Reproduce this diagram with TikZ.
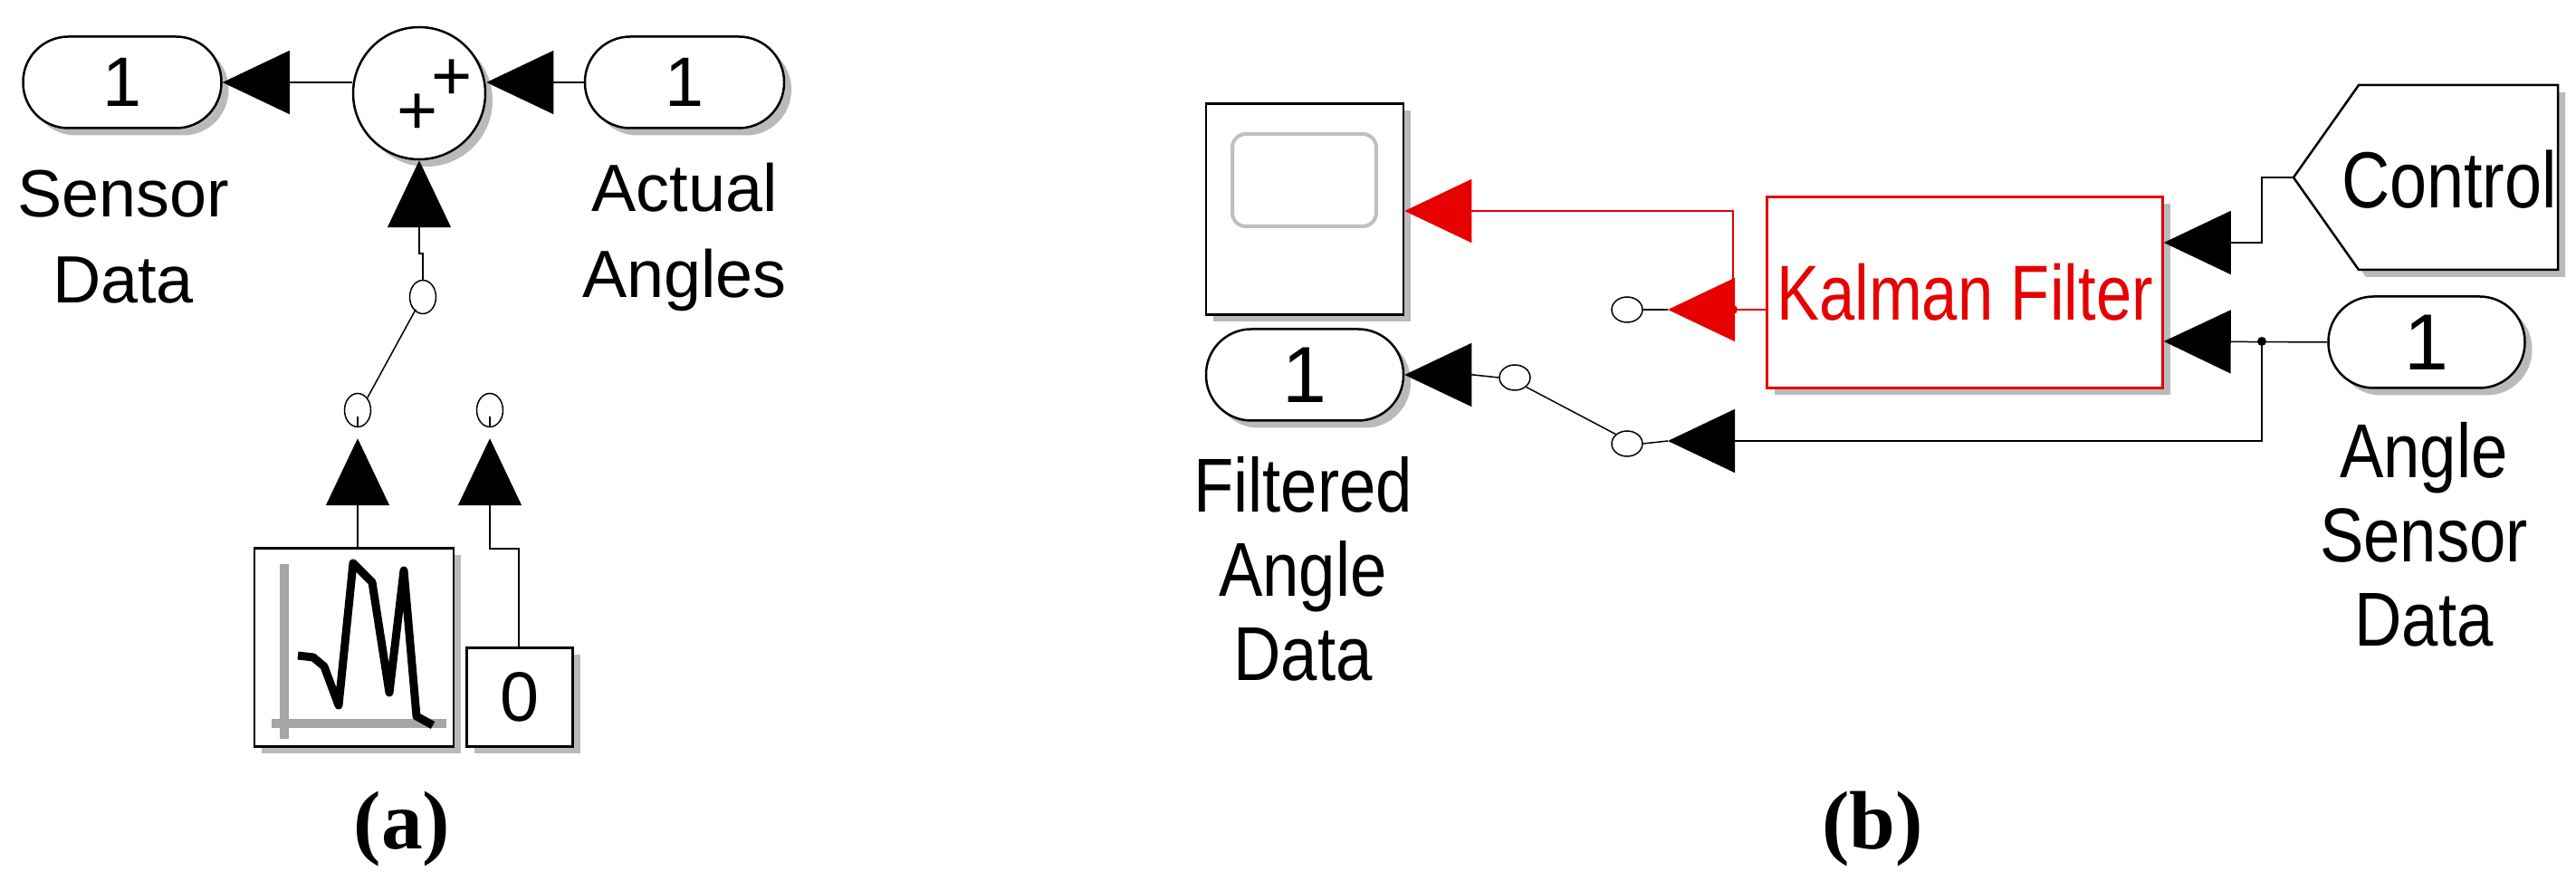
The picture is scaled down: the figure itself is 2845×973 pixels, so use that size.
\documentclass[tikz,border=0pt]{standalone}
\usepackage{fontspec}
\setmainfont{Liberation Sans}
\newfontfamily\capfont{Liberation Serif}
\usetikzlibrary{arrows.meta,shadows,shapes.geometric}
\definecolor{kred}{RGB}{230,0,0}
\begin{document}
\begin{tikzpicture}[x=0.1mm,y=-0.1mm,
  lw/.style={line width=0.25mm},
  shd/.style={drop shadow={shadow xshift=0.8mm,shadow yshift=-0.8mm,fill=black!45,opacity=0.6}},
  port/.style={draw,lw,fill=white,shd,rounded corners=5mm,minimum width=#1,minimum height=10.1mm,inner sep=0pt,font=\fontsize{22}{24}\selectfont},
  nport/.style={port=#1,font=\fontsize{25}{24}\selectfont},
  block/.style={draw,lw,fill=white,shd,inner sep=0pt},
  sw/.style={draw,line width=0.15mm,ellipse,fill=white,inner sep=0pt,minimum width=#1},
  lab/.style={align=center,font=\fontsize{21}{27}\selectfont},
  nlab/.style={align=center,font=\fontsize{24}{26.5}\selectfont,xscale=0.86},
  con/.style={line width=0.15mm},
  arr/.style={con,-{Triangle[length=7.4mm,width=7mm]}},
  captxt/.style={font=\capfont\bfseries\fontsize{26}{30}\selectfont}]
\useasboundingbox (0,0) rectangle (2845,973);
% ---------- panel (a)
\node[port=21.9mm] (sd) at (135,91) {1};
\node[port=22mm] (aa) at (756,91) {1};
\node[draw,lw,fill=white,shd,circle,minimum size=14.6mm,inner sep=0pt] (sum) at (463,103) {};
\node[font=\fontsize{22}{24}\selectfont] at (461,126) {+};
\node[font=\fontsize{22}{24}\selectfont] at (499,88) {+};
\node[lab] at (136,262) {Sensor\\Data};
\node[lab] at (756,262) {Actual\\Angles};
\draw[arr] (sum.west |- sd) -- (sd.east);
\draw[arr] (aa.west) -- (sum.east |- aa);
\node[sw=2.9mm,minimum height=3.7mm] (s1) at (467,328) {};
\node[sw=2.9mm,minimum height=3.7mm] (s2) at (395,453) {};
\node[sw=2.9mm,minimum height=3.7mm] (s3) at (541,453) {};
\draw[arr] (s1.north) -- (467,280) -- (463,280) -- (sum.south);
\draw[con] (s1.south west) ++(3,0) -- (s2.north east);
\node[block,minimum width=22mm,minimum height=21.9mm] (sig) at (391,715) {};
\draw[black!35,line width=1mm] (314,623) -- (314,816) (300,799) -- (493,799);
\draw[line width=0.9mm,line join=round] (329,724) -- (346,726) -- (358,736) -- (374,779) -- (390,622) -- (411,643) -- (430,765) -- (446,630) -- (460,791) -- (478,801);
\node[block,minimum width=11.7mm,minimum height=10.9mm,font=\fontsize{22}{24}\selectfont] (c0) at (574,770) {0};
\draw[arr] (sig.north -| s2) -- ([yshift=-1.2mm]s2.south);
\draw[con] (s2.south) -- ++(0,1.2mm);
\draw[arr] (c0.north -| 573,0) -- (573,606) -- (541,606) -- ([yshift=-1.2mm]s3.south);
\draw[con] (s3.south) -- ++(0,1.2mm);
\node[captxt] at (444,916) {(a)};
% ---------- panel (b)
\node[block,minimum width=21.8mm,minimum height=23.3mm] (scope) at (1441,231) {};
\draw[black!25,line width=0.4mm,rounded corners=1.5mm] (1361,148) rectangle (1520,250);
\node[nport=21.8mm] (fad) at (1441,414) {1};
\node[nlab] at (1439,628) {Filtered\\Angle\\Data};
\node[block,draw=kred,minimum width=43.7mm,minimum height=21.1mm] (kf) at (2170,323) {};
\node[text=kred,font=\fontsize{24.5}{24}\selectfont,xscale=0.82] at (kf.center) {Kalman Filter};
\coordinate (ctl) at (2533,196);
\filldraw[lw,fill=white,drop shadow={shadow xshift=0.8mm,shadow yshift=-0.8mm,fill=black!45,opacity=0.6}] (ctl) -- (2605,94) -- (2825,94) -- (2825,298) -- (2605,298) -- cycle;
\node[font=\fontsize{25}{24}\selectfont,xscale=0.84] (ctltext) at (2705,198) {Control};
\node[nport=21.7mm] (asd) at (2680,378) {1};
\node[nlab] at (2677,590) {Angle\\Sensor\\Data};
\node[sw=3.4mm,minimum height=2.8mm] (r1) at (1797,342) {};
\node[sw=3.4mm,minimum height=2.8mm] (f1) at (1673,417) {};
\node[sw=3.4mm,minimum height=2.8mm] (f2) at (1797,490) {};
\coordinate (kdot) at (1914,342);
\coordinate (adot) at (2498,377);
\fill[kred] (kdot) circle (0.5mm);
\fill (adot) circle (0.5mm);
\draw[arr,kred] (kf.west |- kdot) -- (kdot) -- (1914,233) -- (scope.east |- 0,233);
\draw[arr,kred] (kdot) -- (1842,342);
\draw[con] (1842,342) -- (r1.east);
\draw[arr] (ctl) -- (2498,196) -- (2498,268) -- (kf.east |- 0,268);
\draw[arr] (asd.west) -- (kf.east |- adot);
\draw[arr] (adot) -- (2498,487) -- (1842,487);
\draw[con] (1842,487) -- (f2.east);
\draw[con] (f2.north west) -- (f1.south east);
\draw[arr] (f1.west) -- (1627,414) -- (fad.east);
\node[captxt] at (2068,916) {(b)};
\end{tikzpicture}
\end{document}
